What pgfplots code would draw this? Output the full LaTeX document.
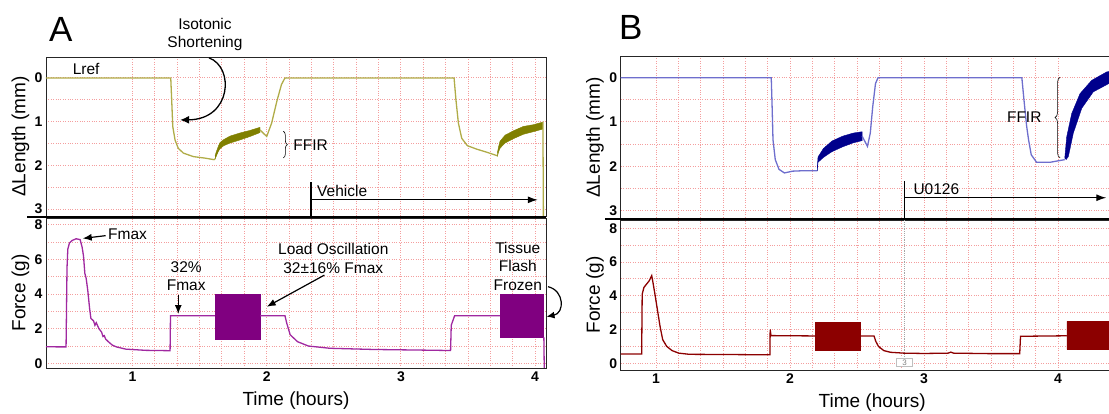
\documentclass[border=0pt]{standalone}
\usepackage{fontspec}
\setmainfont{Liberation Sans}
\usepackage{pgfplots}
\pgfplotsset{compat=1.18}
\usetikzlibrary{arrows.meta,decorations.pathreplacing}

\definecolor{gridpink}{RGB}{244,158,158}
\definecolor{oliveline}{RGB}{176,172,72}
\definecolor{oliveband}{RGB}{128,128,0}
\definecolor{purpline}{RGB}{160,40,160}
\definecolor{purpband}{RGB}{128,0,128}
\definecolor{blueline}{RGB}{110,110,205}
\definecolor{blueband}{RGB}{0,0,140}
\definecolor{redline}{RGB}{140,0,0}

\newcommand{\annot}{\fontsize{15.5}{18.5}\selectfont}

\pgfplotsset{
  trace/.style={
    scale only axis, anchor=south west, clip mode=individual,
    xtick={1,2,3,4}, minor x tick num=5,
    grid=both,
    major grid style={gridpink, dotted, line width=1pt},
    minor grid style={gridpink, dotted, line width=1pt},
    major tick length=0pt, minor tick length=0pt,
    axis line style={line width=0.9pt, black!85},
    ticklabel style={font=\fontsize{14}{14}\selectfont\bfseries},
    /pgf/number format/assume math mode=true,
    label style={font=\fontsize{19}{19}\selectfont},
    ylabel style={at={(axis description cs:-0.051,0.5)}, anchor=center},
    xlabel style={at={(axis description cs:0.5,-0.22)}, anchor=center},
  },
  lenpanel/.style={trace, y dir=reverse, ytick={0,1,2,3}, minor y tick num=1,
    xticklabels={}, ylabel={ΔLength (mm)}},
  forcepanel/.style={trace, ytick={0,2,4,6,8}, minor y tick num=1,
    xlabel={Time (hours)}, ylabel={Force (g)}},
}

\begin{document}
\begin{tikzpicture}
\useasboundingbox (0,0) rectangle (1109pt,414pt);

% ---------------- A: length ----------------
\begin{axis}[lenpanel, at={(46pt,198pt)}, width=500pt, height=159pt,
  xmin=0.3555, xmax=4.081, ymin=-0.48, ymax=3.16]
\addplot[oliveline, line width=1.3pt] coordinates {
 (0.3555,0) (1.285,0) (1.292,0.5) (1.30,1.11) (1.317,1.42) (1.341,1.61)
 (1.379,1.72) (1.453,1.80) (1.54,1.835) (1.607,1.87) (1.615,1.85)};
\addplot[fill=oliveband, draw=oliveband, line width=0.4pt] coordinates {
 (1.615,1.78) (1.627,1.67) (1.64,1.56) (1.652,1.48) (1.68,1.41) (1.727,1.33)
 (1.80,1.26) (1.876,1.20) (1.95,1.13) (1.95,1.25) (1.876,1.34) (1.80,1.42)
 (1.727,1.49) (1.68,1.55) (1.652,1.62) (1.64,1.68) (1.627,1.77) (1.615,1.86)};
\addplot[oliveline, line width=1.3pt] coordinates {
 (1.95,1.19) (2.0,1.34) (2.037,1.03) (2.075,0.54) (2.11,0.15) (2.136,0)
 (3.396,0) (3.41,0.5) (3.428,1.03) (3.453,1.38) (3.495,1.55) (3.565,1.63)
 (3.64,1.70) (3.718,1.78)};
\addplot[fill=oliveband, draw=oliveband, line width=0.4pt] coordinates {
 (3.718,1.72) (3.728,1.57) (3.738,1.45) (3.776,1.31) (3.838,1.21) (3.912,1.11)
 (3.987,1.07) (4.057,1.01) (4.057,1.17) (3.987,1.23) (3.912,1.29) (3.838,1.39)
 (3.776,1.49) (3.738,1.61) (3.728,1.69) (3.718,1.80)};
\addplot[oliveline, line width=1.3pt] coordinates {(4.058,1.0) (4.062,3.4)};

\node[anchor=west, font=\annot] at (axis cs:0.529,-0.2) {Lref};
\node[align=center, font=\annot] at (axis cs:1.54,-0.99) {Isotonic\\Shortening};
\draw[line width=1.3pt, -{Latex[length=9pt,width=8pt]}]
  (axis cs:1.57,-0.46) .. controls (axis cs:1.76,-0.25) and (axis cs:1.74,0.95) .. (axis cs:1.355,0.96);
\draw[decorate, decoration={brace, amplitude=4pt}, line width=0.6pt]
  (axis cs:2.124,1.22) -- (axis cs:2.124,1.83);
\node[anchor=west, font=\annot, inner sep=0pt] at (axis cs:2.198,1.53) {FFIR};
\draw[line width=1.2pt] (axis cs:2.33,2.39) -- (axis cs:2.33,3.16);
\draw[line width=1.2pt, -{Latex[length=10pt,width=7pt]}] (axis cs:2.33,2.79) -- (axis cs:4.02,2.79);
\node[anchor=west, font=\annot, inner sep=0pt] at (axis cs:2.375,2.58) {Vehicle};
\end{axis}

% ---------------- A: force ----------------
\begin{axis}[forcepanel, at={(46pt,46pt)}, width=500pt, height=150pt,
  xmin=0.3555, xmax=4.081, ymin=-0.27, ymax=8.4]
\addplot[purpline, line width=1.3pt] coordinates {
 (0.3555,0.96) (0.45,0.95) (0.505,0.95) (0.512,5.5) (0.518,6.6) (0.53,6.95)
 (0.55,7.1) (0.58,7.2) (0.61,7.15) (0.625,6.7) (0.635,6.2) (0.645,5.2)
 (0.655,4.9) (0.667,4.2) (0.68,3.2) (0.69,2.6) (0.71,2.45) (0.72,2.2)
 (0.73,2.35) (0.75,2.0) (0.77,1.8) (0.78,1.55) (0.79,1.6) (0.80,1.4)
 (0.82,1.25) (0.85,1.05) (0.88,0.95) (0.95,0.82) (1.1,0.75) (1.28,0.73)
 (1.283,2.75) (1.615,2.75)};
\addplot[fill=purpband, draw=purpband] coordinates {
 (1.615,1.4) (1.95,1.4) (1.95,4.0) (1.615,4.0) (1.615,1.4)};
\addplot[purpline, line width=1.3pt] coordinates {
 (1.95,2.75) (2.136,2.75) (2.15,2.3) (2.175,1.65) (2.23,1.25) (2.31,1.0)
 (2.47,0.87) (2.8,0.8) (3.2,0.76) (3.37,0.74) (3.375,2.2) (3.40,2.75) (3.74,2.75)};
\addplot[fill=purpband, draw=purpband] coordinates {
 (3.74,1.5) (4.06,1.5) (4.06,4.0) (3.74,4.0) (3.74,1.5)};
\addplot[purpline, line width=1.3pt] coordinates {(4.065,1.5) (4.068,-0.3)};

\node[anchor=west, font=\annot, inner sep=0pt] at (axis cs:0.817,7.46) {Fmax};
\draw[line width=1.2pt, -{Latex[length=9pt,width=7pt]}] (axis cs:0.80,7.38) -- (axis cs:0.629,7.22);
\node[align=center, font=\annot] at (axis cs:1.40,5.05) {32\%\\Fmax};
\draw[line width=1.2pt, -{Latex[length=9pt,width=7pt]}] (axis cs:1.341,3.95) -- (axis cs:1.341,2.85);
\node[align=center, font=\annot] at (axis cs:2.496,6.06) {Load Oscillation\\32±16\% Fmax};
\draw[line width=1.2pt, -{Latex[length=9pt,width=7pt]}] (axis cs:2.43,5.1) -- (axis cs:2.0,3.27);
\node[align=center, font=\annot] at (axis cs:3.871,5.6) {Tissue\\Flash\\Frozen};
\draw[line width=1.2pt, -{Latex[length=8pt,width=7pt]}]
  (axis cs:4.096,4.43) .. controls (axis cs:4.22,4.2) and (axis cs:4.22,2.9) .. (axis cs:4.085,2.7);
\end{axis}

% ---------------- B: length ----------------
\begin{axis}[lenpanel, at={(620.7pt,195pt)}, width=503pt, height=163pt,
  xmin=0.7366, xmax=4.49, ymin=-0.49, ymax=3.19]
\addplot[blueline, line width=1.3pt] coordinates {
 (0.7366,0) (1.86,0) (1.866,0.6) (1.873,1.4) (1.89,1.85) (1.918,2.07)
 (1.958,2.15) (2.02,2.11) (2.10,2.10) (2.203,2.10)};
\addplot[fill=blueband, draw=blueband, line width=0.4pt] coordinates {
 (2.203,2.05) (2.209,1.79) (2.249,1.60) (2.313,1.43) (2.393,1.32) (2.472,1.25)
 (2.538,1.22) (2.538,1.42) (2.472,1.47) (2.393,1.56) (2.313,1.67) (2.249,1.80)
 (2.209,1.91) (2.203,2.11)};
\addplot[blueline, line width=1.3pt] coordinates {
 (2.538,1.32) (2.578,1.55) (2.599,1.25) (2.617,0.66) (2.638,0.13) (2.657,0)
 (3.73,0) (3.746,0.51) (3.766,1.10) (3.78,1.40) (3.80,1.74) (3.84,1.91)
 (3.94,1.91) (4.05,1.85)};
\addplot[fill=blueband, draw=blueband, line width=0.4pt] coordinates {
 (4.05,1.82) (4.065,1.33) (4.102,0.81) (4.164,0.36) (4.251,0.06) (4.363,-0.13)
 (4.49,-0.2) (4.49,0.05) (4.38,0.13) (4.263,0.32) (4.177,0.69) (4.114,1.25)
 (4.077,1.78) (4.06,1.85)};

\draw[decorate, decoration={brace, amplitude=5pt}, line width=0.6pt]
  (axis cs:4.015,1.81) -- (axis cs:4.015,-0.01);
\node[anchor=east, font=\annot, inner sep=0pt] at (axis cs:3.878,0.88) {FFIR};
\draw[line width=1.2pt] (axis cs:2.855,2.34) -- (axis cs:2.855,3.19);
\draw[line width=1.2pt, -{Latex[length=10pt,width=7pt]}] (axis cs:2.855,2.71) -- (axis cs:4.36,2.71);
\node[anchor=west, font=\annot, inner sep=0pt] at (axis cs:2.92,2.52) {U0126};
\end{axis}

% ---------------- B: force ----------------
\begin{axis}[forcepanel, at={(620.7pt,44pt)}, width=503pt, height=150pt,
  xmin=0.7366, xmax=4.49, ymin=-0.4, ymax=8.5]
\draw[gray!70, densely dotted, line width=1.2pt] (axis cs:2.855,0.1) -- (axis cs:2.855,8.5);
\addplot[redline, line width=1.3pt] coordinates {
 (0.7366,0.55) (0.893,0.55) (0.897,4.1) (0.91,4.5) (0.93,4.7) (0.95,4.9)
 (0.968,5.2) (0.975,4.9) (0.99,4.2) (1.01,3.2) (1.03,2.2) (1.05,1.4)
 (1.08,1.0) (1.12,0.75) (1.17,0.6) (1.25,0.53) (1.5,0.52) (1.85,0.5)
 (1.852,2.0) (1.858,1.64) (2.187,1.62)};
\addplot[fill=redline, draw=redline] coordinates {
 (2.187,0.79) (2.522,0.79) (2.522,2.44) (2.187,2.44) (2.187,0.79)};
\addplot[redline, line width=1.3pt] coordinates {
 (2.522,1.62) (2.627,1.62) (2.64,1.3) (2.66,1.0) (2.70,0.75) (2.75,0.65)
 (2.85,0.6) (3.0,0.58) (3.18,0.6) (3.2,0.66) (3.22,0.6) (3.5,0.57)
 (3.714,0.57) (3.72,1.6) (4.065,1.63)};
\addplot[fill=redline, draw=redline] coordinates {
 (4.065,0.83) (4.49,0.83) (4.49,2.48) (4.065,2.48) (4.065,0.83)};
\node[draw=gray!50, fill=white, text=gray, inner sep=1pt, minimum width=16pt,
  font=\fontsize{8}{8}\selectfont] at (axis cs:2.855,0.05) {3};
\end{axis}

% separators and panel letters
\draw[line width=2pt] (27pt,197pt) -- (546pt,197pt);
\draw[line width=2pt] (605pt,195pt) -- (1109pt,195pt);
\node[anchor=base west, inner sep=0pt, font=\fontsize{35}{35}\selectfont] at (49pt,372pt) {A};
\node[anchor=base west, inner sep=0pt, font=\fontsize{35}{35}\selectfont] at (619pt,374pt) {B};
\end{tikzpicture}
\end{document}
